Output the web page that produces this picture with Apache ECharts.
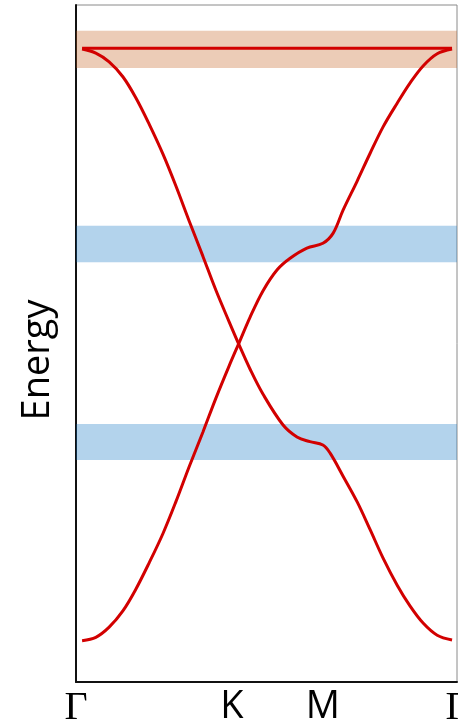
<!DOCTYPE html>
<html>
<head>
<meta charset="utf-8">
<script src="https://cdn.jsdelivr.net/npm/echarts@6/dist/echarts.min.js"></script>
<style>
  html, body { margin: 0; padding: 0; background: #fff; }
  #chart { width: 458px; height: 723px; }
</style>
</head>
<body>
<div id="chart"></div>
<script>
// Momentum path positions (fraction of the path) and their high-symmetry labels
const kPath = [0.016, 0.052, 0.087, 0.123, 0.157, 0.192, 0.228, 0.262, 0.297, 0.333,
               0.367, 0.402, 0.428, 0.457, 0.491, 0.543, 0.580, 0.614, 0.648, 0.667,
               0.701, 0.738, 0.772, 0.806, 0.843, 0.877, 0.911, 0.948, 0.987];
const kPathB = [0.016, 0.052, 0.087, 0.123, 0.157, 0.192, 0.228, 0.262, 0.297, 0.333,
                0.367, 0.402, 0.428, 0.457, 0.491, 0.528, 0.562, 0.606, 0.648, 0.675,
                0.701, 0.738, 0.772, 0.806, 0.843, 0.877, 0.911, 0.948, 0.987];
const tickPositions = [0, 0.409, 0.648, 1];
const tickLabels = ['Γ', 'K', 'M', 'Γ'];

// Band energies (arbitrary units)
const bandDown = [9.35, 9.29, 9.16, 8.94, 8.63, 8.24, 7.80, 7.33, 6.81, 6.29,
                  5.79, 5.32, 4.98, 4.62, 4.25, 3.80, 3.62, 3.55, 3.50, 3.38,
                  3.04, 2.66, 2.25, 1.83, 1.43, 1.12, 0.87, 0.69, 0.62];
const bandUp = [0.61, 0.66, 0.81, 1.05, 1.37, 1.76, 2.19, 2.66, 3.18, 3.69,
                4.19, 4.67, 5.01, 5.39, 5.78, 6.09, 6.26, 6.41, 6.48, 6.63,
                6.97, 7.40, 7.81, 8.20, 8.55, 8.85, 9.10, 9.28, 9.35];
const flatBandK = [0.016, 0.987];
const flatBandE = [9.36, 9.36];

// Highlighted energy windows [from, to]
const orangeWindow = [9.07, 9.62];
const blueWindows = [[6.20, 6.74], [3.28, 3.81]];

const energyMin = 0, energyMax = 10;

const pairs = (xs, ys) => xs.map((x, i) => [x, ys[i]]);

const chart = echarts.init(document.getElementById('chart'), null, { renderer: 'canvas' });

const lineStyle = { color: '#d20000', width: 3 };

chart.setOption({
  animation: false,
  backgroundColor: '#ffffff',
  grid: {
    left: 76, right: 1, top: 5, bottom: 41,
    outerBoundsMode: 'none',
    containLabel: false,
    show: true, borderColor: '#8a8a8a', borderWidth: 1, backgroundColor: 'transparent'
  },
  xAxis: {
    type: 'value', min: 0, max: 1,
    splitLine: { show: false },
    axisTick: { show: false },
    axisLine: { show: true, lineStyle: { color: '#111', width: 2 } },
    axisLabel: {
      customValues: tickPositions,
      margin: 6,
      hideOverlap: false,
      formatter: (v) => {
        const i = tickPositions.findIndex(p => Math.abs(p - v) < 1e-6);
        const t = i >= 0 ? tickLabels[i] : '';
        return t === 'Γ' ? '{g|Γ}' : '{s|' + t + '}';
      },
      rich: {
        g: { fontFamily: 'Liberation Serif', fontSize: 40, color: '#000' },
        s: { fontFamily: 'Open Sans', fontSize: 38, color: '#000' }
      }
    }
  },
  yAxis: {
    type: 'value', min: energyMin, max: energyMax,
    splitLine: { show: false },
    axisTick: { show: false },
    axisLabel: { show: false },
    axisLine: { show: true, lineStyle: { color: '#111', width: 2 } }
  },
  graphic: [{
    type: 'text',
    x: 38, y: 360,
    rotation: Math.PI / 2,
    style: {
      text: 'Energy',
      font: '38px "Open Sans"',
      fill: '#000',
      align: 'center',
      verticalAlign: 'middle'
    }
  }],
  series: [
    {
      type: 'line', data: pairs(kPath, bandDown), showSymbol: false,
      smooth: 0.35, lineStyle, z: 2
    },
    {
      type: 'line', data: pairs(kPathB, bandUp), showSymbol: false,
      smooth: 0.35, lineStyle, z: 2
    },
    {
      type: 'line', data: pairs(flatBandK, flatBandE), showSymbol: false,
      lineStyle, z: 2
    },
    {
      type: 'line', data: [], silent: true, z: 5,
      markArea: {
        silent: true,
        label: { show: false },
        data: [
          [{ yAxis: orangeWindow[0], itemStyle: { color: 'rgba(194,90,23,0.31)' } }, { yAxis: orangeWindow[1] }],
          ...blueWindows.map(w => [{ yAxis: w[0], itemStyle: { color: 'rgba(10,114,193,0.31)' } }, { yAxis: w[1] }])
        ]
      }
    }
  ]
});
</script>
</body>
</html>
